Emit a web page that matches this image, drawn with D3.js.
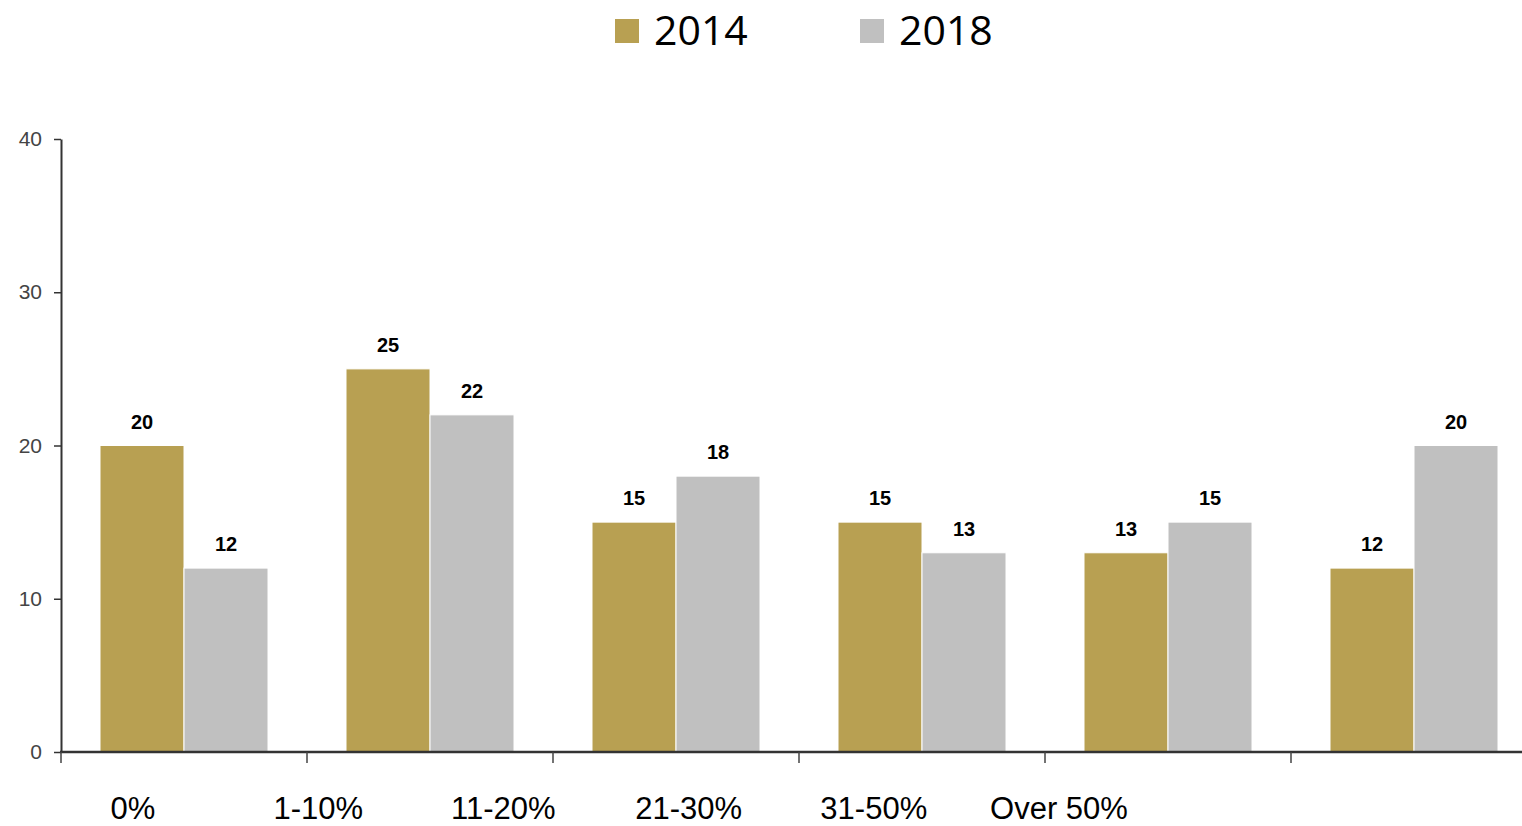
<!DOCTYPE html>
<html>
<head>
<meta charset="utf-8">
<script src="https://cdn.jsdelivr.net/npm/d3@7"></script>
<style>
  body { margin: 0; background: #fff; }
  svg { display: block; overflow: hidden; }
</style>
</head>
<body>
<script>
// data
const categories = ["0%", "1-10%", "11-20%", "21-30%", "31-50%", "Over 50%"];
const series = ["2014", "2018"];
const values_2014 = [20, 25, 15, 15, 13, 12];
const values_2018 = [12, 22, 18, 13, 15, 20];
const y_ticks = [0, 10, 20, 30, 40];

const COLORS = {"2014": "#b8a052", "2018": "#c0c0c0"};
const width = 1522, height = 826;

const svg = d3.select("body").append("svg")
    .attr("width", width)
    .attr("height", height);

const y = d3.scaleLinear().domain([0, 40]).range([752, 139]);
const x0 = d3.scaleBand().domain(categories).range([61, 1537]);
const x1 = d3.scaleBand().domain(series).range([39, 207]);
// the labels sit off the bands, like in the original export
const x_label = d3.scalePoint().domain(categories).range([133, 1059]);

const rows = categories.map((c, i) => ({cat: c, "2014": values_2014[i], "2018": values_2018[i]}));

// bars
const groups = svg.append("g").selectAll("g")
    .data(rows)
    .join("g")
    .attr("transform", d => `translate(${x0(d.cat)},0)`);

groups.selectAll("rect")
    .data(d => series.map(s => ({key: s, value: d[s]})))
    .join("rect")
    .attr("x", d => x1(d.key))
    .attr("y", d => y(d.value))
    .attr("width", x1.bandwidth())
    .attr("height", d => y(0) - y(d.value))
    .attr("fill", d => COLORS[d.key])
    .attr("stroke", "#fff")
    .attr("stroke-width", 1);

groups.selectAll("text")
    .data(d => series.map(s => ({key: s, value: d[s]})))
    .join("text")
    .attr("x", d => x1(d.key) + x1.bandwidth() / 2)
    .attr("y", d => y(d.value) - 17)
    .attr("text-anchor", "middle")
    .style("font-family", "'Liberation Sans', Arial, sans-serif")
    .style("font-weight", "bold")
    .style("font-size", "20px")
    .attr("fill", "#000")
    .text(d => d.value);

// y axis
const y_axis = svg.append("g")
    .attr("transform", "translate(61,0)")
    .call(d3.axisLeft(y).tickValues(y_ticks).tickSize(7).tickPadding(12).tickSizeOuter(0));
y_axis.select(".domain").attr("stroke", "#333").attr("stroke-width", 2);
y_axis.selectAll(".tick line").attr("stroke", "#333").attr("stroke-width", 1.5);
y_axis.selectAll(".tick text")
    .style("font-family", "'Liberation Sans', Arial, sans-serif")
    .style("font-size", "21px")
    .attr("fill", "#444");

// x axis
const x_axis = svg.append("g");
x_axis.append("line")
    .attr("x1", 60).attr("x2", width)
    .attr("y1", y(0)).attr("y2", y(0))
    .attr("stroke", "#333").attr("stroke-width", 2.5);
x_axis.selectAll("line.tick")
    .data(categories)
    .join("line")
    .attr("class", "tick")
    .attr("x1", d => x0(d)).attr("x2", d => x0(d))
    .attr("y1", y(0)).attr("y2", y(0) + 11)
    .attr("stroke", "#444").attr("stroke-width", 1.5);
x_axis.selectAll("text")
    .data(categories)
    .join("text")
    .attr("x", d => x_label(d))
    .attr("y", 819)
    .attr("text-anchor", "middle")
    .style("font-family", "'Liberation Sans', Arial, sans-serif")
    .style("font-size", "31px")
    .attr("fill", "#000")
    .text(d => d);

// legend
const legend = svg.append("g");
const legend_x = {"2014": 615, "2018": 860};
series.forEach(s => {
    legend.append("rect")
        .attr("x", legend_x[s]).attr("y", 19)
        .attr("width", 24).attr("height", 24)
        .attr("fill", COLORS[s]);
    legend.append("text")
        .attr("x", legend_x[s] + 39).attr("y", 45)
        .style("font-family", "'Open Sans', sans-serif")
        .style("font-size", "41px")
        .attr("fill", "#000")
        .text(s);
});
</script>
</body>
</html>
